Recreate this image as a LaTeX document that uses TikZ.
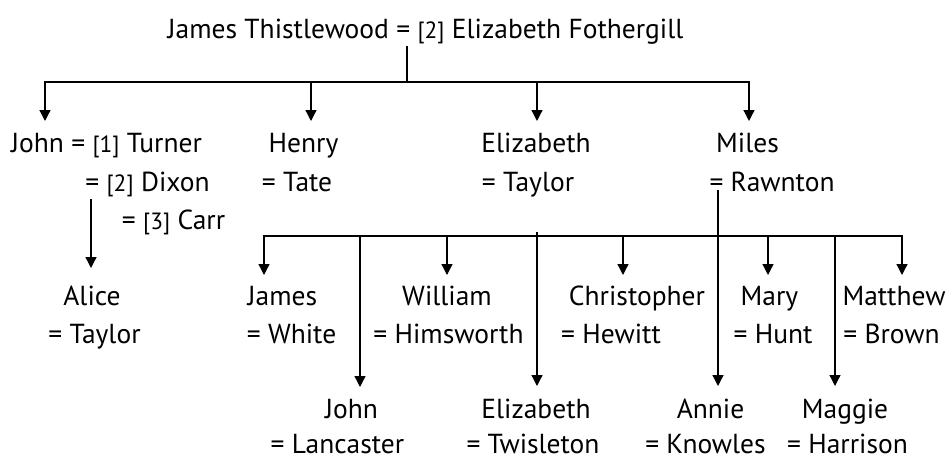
\documentclass[tikz,border=0pt]{standalone}
\usepackage{fontspec}
\setmainfont{PT Sans}
\usetikzlibrary{arrows.meta}
\begin{document}
\begin{tikzpicture}[x=1pt,y=-1pt,
  lbl/.style={anchor=base,inner sep=0pt,font=\fontsize{27.5}{32}\selectfont},
  conn/.style={line width=1.3pt},
  arr/.style={conn,-{Triangle[width=11pt,length=11pt]}}]
\useasboundingbox (0,0) rectangle (947,460);
\newcommand\brk[1]{{\fontsize{23.5}{27}\selectfont[#1]}}
% texts
\node[lbl] (top) at (425.5,39) {James Thistlewood = \brk{2} Elizabeth Fothergill};
\node[lbl] (johnA) at (106.5,152.5) {John = \brk{1} Turner};
\node[lbl] (johnB) at (147.5,191) {= \brk{2} Dixon};
\node[lbl] (johnC) at (173.5,229) {= \brk{3} Carr};
\node[lbl] (henry) at (303.5,152.5) {Henry};
\node[lbl] (tate) at (297,191) {= Tate};
\node[lbl] (eliz) at (536,152.5) {Elizabeth};
\node[lbl] (taylorA) at (528,191) {= Taylor};
\node[lbl] (miles) at (747.5,152.5) {Miles};
\node[lbl] (rawnton) at (772,191) {= Rawnton};
\node[lbl] (alice) at (92,305) {Alice};
\node[lbl] (taylorB) at (94.5,343) {= Taylor};
\node[lbl] (james) at (282.5,305) {James};
\node[lbl] (white) at (291.5,343) {= White};
\node[lbl] (william) at (447,305) {William};
\node[lbl] (himsworth) at (448.5,343) {= Himsworth};
\node[lbl] (christopher) at (637,305) {Christopher};
\node[lbl] (hewitt) at (611,343) {= Hewitt};
\node[lbl] (mary) at (769.5,305) {Mary};
\node[lbl] (hunt) at (773,343) {= Hunt};
\node[lbl] (matthew) at (894,305) {Matthew};
\node[lbl] (brown) at (891.5,343) {= Brown};
\node[lbl] (john2) at (351.5,418) {John};
\node[lbl] (lancaster) at (337.5,453) {= Lancaster};
\node[lbl] (eliz2) at (536,418) {Elizabeth};
\node[lbl] (twisleton) at (533,453) {= Twisleton};
\node[lbl] (annie) at (710.5,418) {Annie};
\node[lbl] (knowles) at (705.5,453) {= Knowles};
\node[lbl] (maggie) at (845,418) {Maggie};
\node[lbl] (harrison) at (847.5,453) {= Harrison};
% connector points
\coordinate (s0) at (407,46);
\coordinate (j0) at (407,82);
\coordinate (t1) at (45,121);
\coordinate (t2) at (311,121);
\coordinate (t3) at (537,121);
\coordinate (t4) at (749,121);
\coordinate (a0) at (91,199);
\coordinate (a1) at (91,268);
\coordinate (m0) at (718,190);
\coordinate (m1) at (718,236);
\coordinate (tJames) at (264,275);
\coordinate (tWilliam) at (447,275);
\coordinate (tChris) at (623,275);
\coordinate (tMary) at (768,275);
\coordinate (tMatthew) at (902,275);
\coordinate (bJohn) at (360,236);
\coordinate (tJohn) at (360,387);
\coordinate (bEliz) at (537,232);
\coordinate (tEliz) at (537,386);
\coordinate (tAnnie) at (718,386);
\coordinate (bMaggie) at (835,236);
\coordinate (tMaggie) at (835,386);
% connectors
\draw[conn] (s0) -- (j0);
\foreach \t in {t1,t2,t3,t4} \draw[arr] (j0) -| (\t);
\draw[arr] (a0) -- (a1);
\draw[arr] (m0) -- (tAnnie);
\foreach \t in {tJames,tWilliam,tChris,tMary,tMatthew} \draw[arr] (m1) -| (\t);
\draw[arr] (bJohn) -- (tJohn);
\draw[arr] (bEliz) -- (tEliz);
\draw[arr] (bMaggie) -- (tMaggie);
\end{tikzpicture}
\end{document}
